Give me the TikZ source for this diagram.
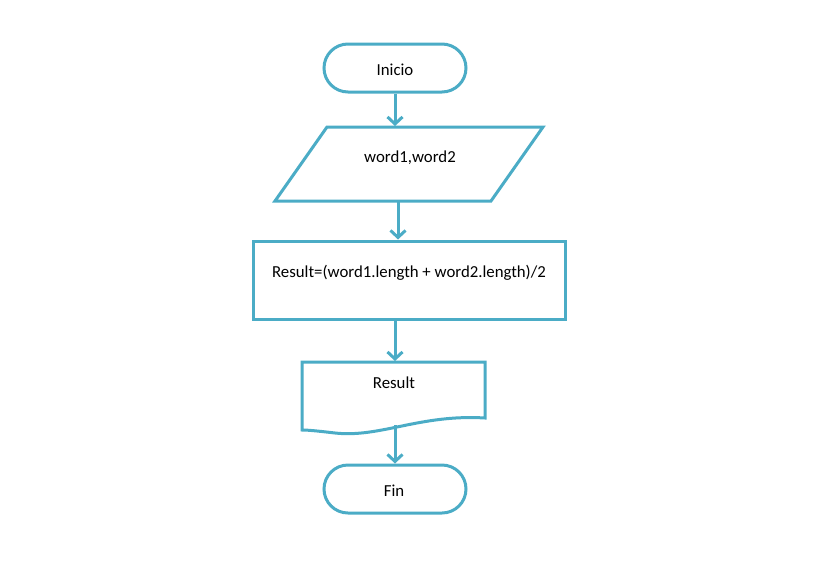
\documentclass[tikz,border=0pt]{standalone}
\usepackage{fontspec}
\setmainfont{Carlito}
\usetikzlibrary{arrows.meta,shapes.geometric,shapes.misc}
\definecolor{flow}{RGB}{75,172,198}
\begin{document}
\begin{tikzpicture}[x=1pt,y=-1pt,
  every node/.style={font=\fontsize{16.8}{19}\selectfont},
  shp/.style={draw=flow,line width=3pt,fill=white},
  term/.style={shp,rounded rectangle,minimum width=142pt,minimum height=48pt,inner sep=0pt},
  conn/.style={draw=flow,line width=3pt,-{Straight Barb[length=7pt,width=15pt,line width=3pt]}}]
\useasboundingbox (0,0) rectangle (837,584);
\node[term] (ini) at (395,68) {};
\node at (395,70) {Inicio};
\draw[shp,line join=miter] (327,127) -- (543,127) -- (491,201) -- (275,201) -- cycle;
\node (inp) at (409,164) {};
\node at (410,158) {word1,word2};
\node[shp,rectangle,minimum width=312pt,minimum height=78pt,inner sep=0pt] (proc) at (409,280) {};
\node at (409,273) {Result=(word1.length + word2.length)/2};
\draw[shp,line join=miter] (302,362) -- (485,362) -- (485,418) .. controls (420,414) and (380,438) .. (335,433) .. controls (318,431) and (308,430) .. (302,430) -- cycle;
\node (out) at (394,383) {Result};
\coordinate (outb) at (395,425);
\node[term] (fin) at (395,489) {};
\node at (394,491) {Fin};
\draw[conn] (ini.south) -- (395,126);
\draw[conn] (398,201) -- (proc.north -| 398,0);
\draw[conn] (proc.south -| 395,0) -- (395,361);
\draw[conn] (outb) -- (fin.north);
\end{tikzpicture}
\end{document}
